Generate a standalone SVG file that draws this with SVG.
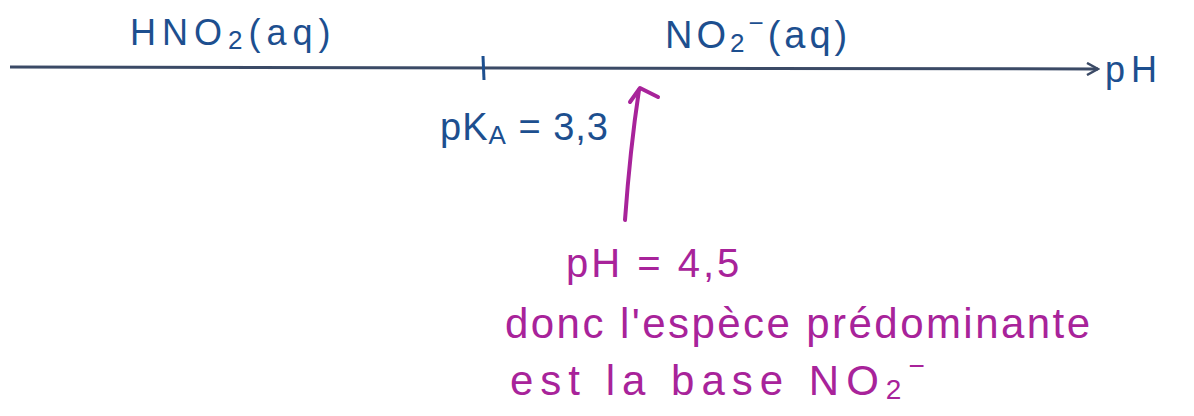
<svg xmlns="http://www.w3.org/2000/svg" width="1194" height="416" viewBox="0 0 1194 416">
<style>
.blue{fill:#1d4f8f;font-family:"Liberation Sans",sans-serif;}
.mag{fill:#a8239a;font-family:"Liberation Sans",sans-serif;}
.axis{stroke:#3b4a66;stroke-width:3;fill:none;}
.marr{fill:none;stroke:#a8239a;stroke-width:4;stroke-linecap:round;stroke-linejoin:round;}
</style>
<defs>
<marker id="ah" markerWidth="14" markerHeight="14" refX="12" refY="7" orient="auto" markerUnits="userSpaceOnUse">
<path d="M1,1 L12,7 L1,13" fill="none" stroke="#3b4a66" stroke-width="2.5"/>
</marker>
</defs>
<g id="connectors">
<line id="axis" class="axis" x1="10" y1="67" x2="1098" y2="69" marker-end="url(#ah)"/>
<line id="tick" x1="483" y1="56" x2="484" y2="80" stroke="#1d4f8f" stroke-width="3"/>
<path id="arrow" class="marr" d="M625,220 Q630,150 639,90"/>
<path class="marr" d="M630,102 L640,88 L658,97"/>
</g>
<g id="acid"><text class="blue" x="130" y="45" font-size="36" letter-spacing="6">HNO<tspan font-size="26" dy="4">2</tspan><tspan dy="-4">(aq)</tspan></text></g>
<g id="base"><text class="blue" x="665" y="48" font-size="38" letter-spacing="4">NO<tspan font-size="26" dy="4">2</tspan><tspan font-size="26" dy="-20">−</tspan><tspan dy="16">(aq)</tspan></text></g>
<g id="phlabel"><text class="blue" x="1105" y="82" font-size="36" letter-spacing="6">pH</text></g>
<g id="pka"><text class="blue" x="440" y="140" font-size="38" letter-spacing="1">pK<tspan font-size="26" dy="4">A</tspan><tspan dy="-4"> = 3,3</tspan></text></g>
<g id="note">
<text class="mag" x="566" y="277" font-size="40" letter-spacing="3">pH = 4,5</text>
<text class="mag" x="505" y="338" font-size="42" textLength="585" lengthAdjust="spacing">donc l'espèce prédominante</text>
<text class="mag" x="510" y="395" font-size="42" letter-spacing="7">est la base NO<tspan font-size="28" dy="4">2</tspan><tspan font-size="28" dy="-24">−</tspan></text>
</g>
</svg>
